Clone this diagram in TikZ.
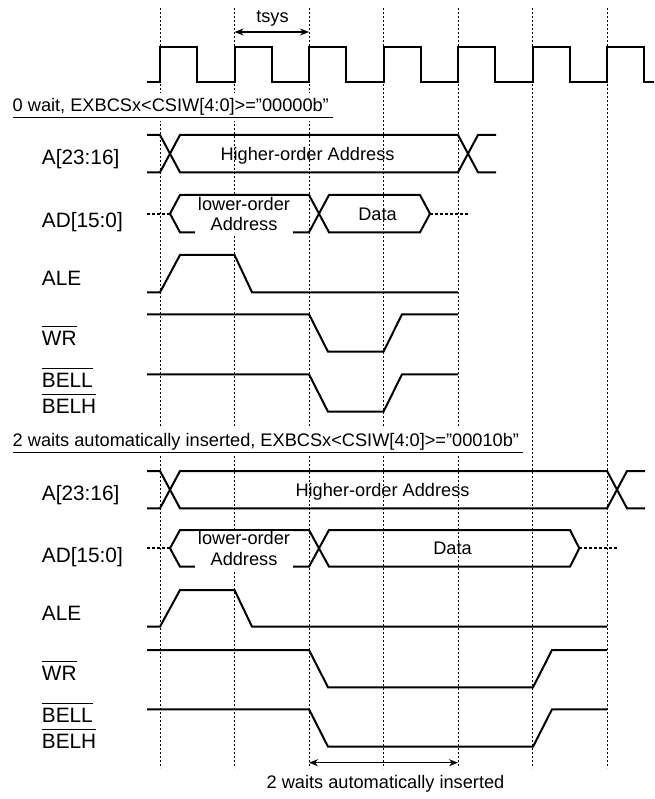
\documentclass[tikz,border=0pt]{standalone}
\usepackage{fontspec}
\setmainfont{Liberation Sans}
\usetikzlibrary{arrows.meta}
\newcommand\ovl[1]{\vbox{\hrule height 0.9pt\kern 4pt\hbox{#1}}}
\begin{document}
\begin{tikzpicture}[x=1pt,y=-1pt,
  wave/.style={line width=2pt},
  gridline/.style={line width=0.9pt, dash pattern=on 2pt off 2pt},
  dotbus/.style={line width=1.8pt, dash pattern=on 3pt off 2pt},
  lbl/.style={anchor=base west, inner sep=0pt, font=\fontsize{20.8}{24}\selectfont},
  txt/.style={anchor=base, inner sep=0pt, font=\fontsize{18.2}{20}\selectfont},
  titlebox/.style={anchor=base west, inner xsep=0pt, inner ysep=6pt, fill=white, font=\fontsize{18.2}{20}\selectfont},
  lotxt/.style={fill=white, inner xsep=2.5pt, inner ysep=0.5pt, align=center, font=\fontsize{18.2}{20.7}\selectfont, text depth=4pt},
  dim/.style={line width=1.4pt, {Stealth[length=9pt,width=7pt]}-{Stealth[length=9pt,width=7pt]}},
  uline/.style={line width=1pt}
]
\useasboundingbox (0,0) rectangle (654,799);

% vertical clock grid
\foreach \i in {0,...,6}
  \draw[gridline] ({160+74.5*\i},8) -- ({160+74.5*\i},768);

% clock
\draw[wave] (147,82) \foreach \i in {0,...,6} {
  -- ({160+74.5*\i},82) -- ({160+74.5*\i},47) -- ({197.25+74.5*\i},47) -- ({197.25+74.5*\i},82) } -- (654,82);

% tsys
\coordinate (ta) at (234.5,32);
\coordinate (tb) at (309,32);
\draw[dim] (ta) -- (tb);
\node[txt] (tsys) at (272.5,22.5) {tsys};

% ---------------- section 1 ----------------
\node[titlebox] (h1) at (12.5,111.7) {0 wait, EXBCSx<CSIW[4:0]>=”00000b”};
\draw[uline] ([yshift=-5.6pt]h1.base west) -- ([xshift=4pt,yshift=-5.6pt]h1.base east);

\node[lbl] (la1) at (41.7,164.5) {A[23:16]};
\node[lbl] (lad1) at (41.7,227.5) {AD[15:0]};
\node[lbl] (lale1) at (41.7,285) {ALE};
\node[lbl] (lwr1) at (41.7,345) {\ovl{WR}};
\node[lbl] (lbl1) at (41.7,387) {\ovl{BELL}};
\node[lbl] (lbh1) at (41.7,413) {\ovl{BELH}};

% A[23:16]
\draw[wave] (147,135) -- (160,135) -- (180,172.3) -- (458,172.3) -- (478,135) -- (496,135);
\draw[wave] (147,172.3) -- (160,172.3) -- (180,135) -- (458,135) -- (478,172.3) -- (496,172.3);
\node[txt] (ha1) at (307.5,160.2) {Higher-order Address};

% AD[15:0]
\draw[dotbus] (147,213.7) -- (170,213.7);
\draw[wave] (170,213.7) -- (180,195) -- (309,195) -- (329,232.3) -- (420,232.3) -- (430,213.7)
  -- (420,195) -- (329,195) -- (309,232.3) -- (180,232.3) -- cycle;
\draw[dotbus] (430,213.7) -- (470,213.7);
\node[lotxt] (lo1) at (244,215.9) {lower-order\\Address};
\node[txt] (d1) at (377.5,220.2) {Data};

% ALE
\draw[wave] (147,292.3) -- (160,292.3) -- (180,255) -- (234.5,255) -- (252,292.3) -- (458,292.3);
% WR
\draw[wave] (147,314.3) -- (309,314.3) -- (328,351.7) -- (383.5,351.7) -- (402,314.3) -- (458,314.3);
% BELL/BELH
\draw[wave] (147,374.3) -- (309,374.3) -- (328,411.7) -- (383.5,411.7) -- (402,374.3) -- (458,374.3);

% ---------------- section 2 ----------------
\node[titlebox] (h2) at (12.5,446.7) {2 waits automatically inserted, EXBCSx<CSIW[4:0]>=”00010b”};
\draw[uline] ([yshift=-5.6pt]h2.base west) -- ([xshift=4pt,yshift=-5.6pt]h2.base east);

\node[lbl] (la2) at (41.7,500) {A[23:16]};
\node[lbl] (lad2) at (41.7,562) {AD[15:0]};
\node[lbl] (lale2) at (41.7,620) {ALE};
\node[lbl] (lwr2) at (41.7,680) {\ovl{WR}};
\node[lbl] (lbl2) at (41.7,722) {\ovl{BELL}};
\node[lbl] (lbh2) at (41.7,748) {\ovl{BELH}};

% A[23:16]
\draw[wave] (147,471) -- (160,471) -- (180,508.3) -- (607,508.3) -- (627,471) -- (645,471);
\draw[wave] (147,508.3) -- (160,508.3) -- (180,471) -- (607,471) -- (627,508.3) -- (645,508.3);
\node[txt] (ha2) at (382.5,496.1) {Higher-order Address};

% AD[15:0]
\draw[dotbus] (147,548.3) -- (170,548.3);
\draw[wave] (170,548.3) -- (180,530) -- (309,530) -- (329,566.7) -- (570,566.7) -- (579.3,548.3)
  -- (570,530) -- (329,530) -- (309,566.7) -- (180,566.7) -- cycle;
\draw[dotbus] (579.3,548.3) -- (618,548.3);
\node[lotxt] (lo2) at (244,550.5) {lower-order\\Address};
\node[txt] (d2) at (452.5,554.8) {Data};

% ALE
\draw[wave] (147,626.7) -- (160,626.7) -- (180,590) -- (234.5,590) -- (252,626.7) -- (607,626.7);
% WR
\draw[wave] (147,650) -- (309,650) -- (328,687.3) -- (533,687.3) -- (552,650) -- (607,650);
% BELL/BELH
\draw[wave] (147,709.3) -- (309,709.3) -- (328,746.7) -- (533,746.7) -- (552,709.3) -- (607,709.3);

% wait arrow
\coordinate (wa) at (309,762.7);
\coordinate (wb) at (458,762.7);
\draw[dim] (wa) -- (wb);
\node[txt] (wtxt) at (385.5,788.3) {2 waits automatically inserted};
\end{tikzpicture}
\end{document}
